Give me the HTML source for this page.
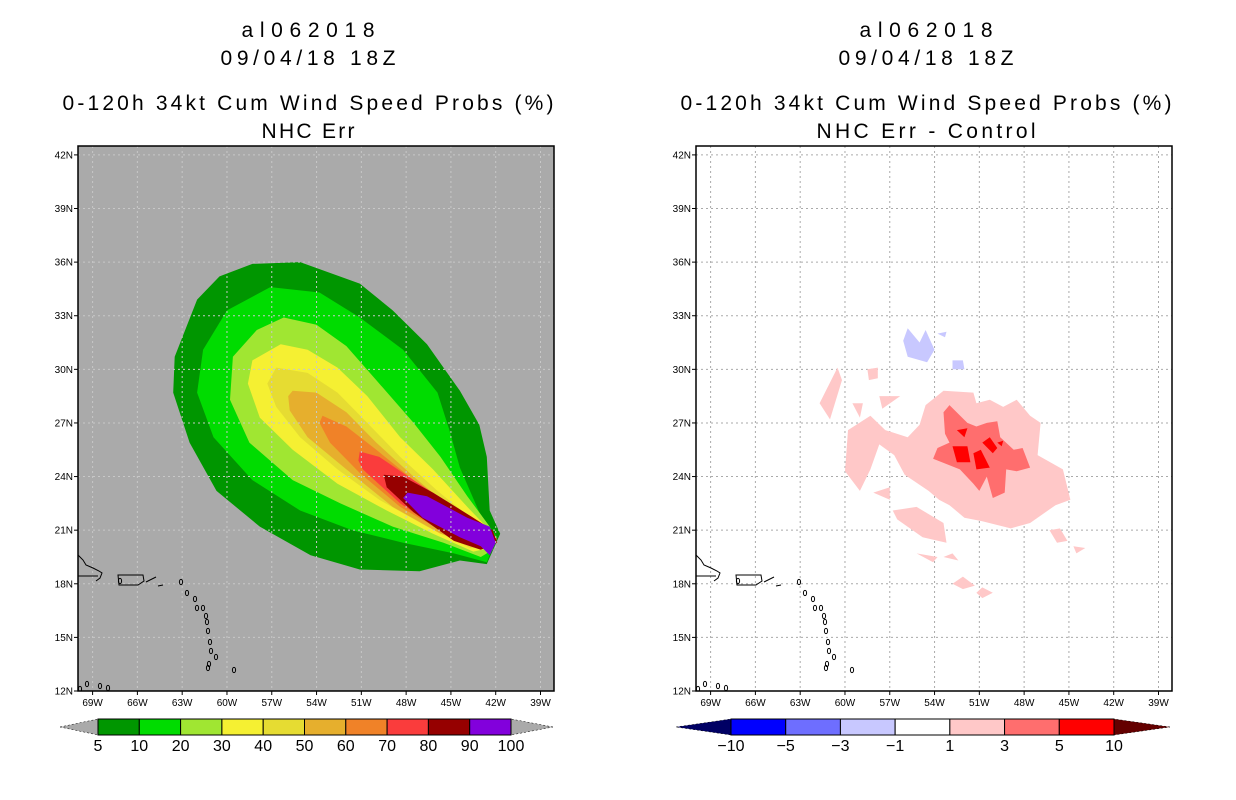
<!DOCTYPE html>
<html><head><meta charset="utf-8"><style>
body{margin:0;background:#fff;width:1236px;height:800px;overflow:hidden;font-family:"Liberation Sans",sans-serif}
svg{display:block}
</style></head><body>
<svg id="c" width="1236" height="800" xmlns="http://www.w3.org/2000/svg"></svg>
<script>
// ---- data ----
const latTicks=[12,15,18,21,24,27,30,33,36,39,42];
const lonTicks=[69,66,63,60,57,54,51,48,45,42,39];
const probLevels=[5,10,20,30,40,50,60,70,80,90,100];
const probColors=["#009600","#00dc00","#a0e632","#f5f032","#e6dc32","#e6af2d","#f08228","#fa3c3c","#960000","#8200dc"];
const diffLevels=[-10,-5,-3,-1,1,3,5,10];
const diffColors=["#0000ff","#6e6eff","#c8c8ff","#ffffff","#ffc8c8","#ff6e6e","#ff0000"];
// contour polygons [lonW, latN]
const c5=[[58.3,35.9],[55.1,36.0],[51.1,34.8],[48.9,33.3],[46.6,31.4],[44.4,28.8],[43.1,26.9],[42.6,25.1],[42.4,22.1],[41.7,20.8],[42.6,19.1],[44.4,19.3],[47.1,18.7],[51.1,18.8],[54.4,19.6],[57.8,21.2],[60.7,23.2],[62.5,25.9],[63.6,28.7],[63.5,30.7],[62.0,33.9],[60.5,35.2]];
const c10=[[57.1,34.6],[53.8,34.3],[51.1,32.9],[48.2,31.1],[45.9,28.7],[45.1,26.6],[44.4,24.5],[43.1,22.0],[41.9,20.6],[42.6,19.2],[44.8,19.7],[48.2,20.3],[51.6,21.0],[55.1,22.1],[58.3,23.8],[60.9,26.2],[62.0,28.7],[61.6,31.1],[60.0,33.3]];
const c20=[[56.2,32.9],[54.0,32.5],[52.0,31.3],[49.8,29.2],[47.5,27.0],[45.7,25.1],[43.9,22.9],[42.4,21.2],[42.2,19.9],[43.0,19.5],[45.5,20.3],[48.9,21.2],[52.4,22.5],[55.6,23.8],[58.5,25.9],[59.8,28.3],[59.6,30.7],[58.0,32.2]];
const c30=[[56.4,31.4],[54.6,31.1],[52.6,30.1],[50.6,28.5],[48.4,26.2],[46.2,24.4],[43.9,22.3],[42.4,21.0],[42.4,20.0],[43.5,19.8],[46.2,20.8],[49.3,22.1],[52.6,23.6],[55.6,25.5],[57.8,27.3],[58.6,29.2],[58.3,30.5]];
const c40=[[56.7,30.1],[54.6,29.8],[52.6,28.7],[50.6,27.0],[48.4,25.1],[45.9,23.2],[43.7,21.7],[42.4,20.8],[42.4,20.1],[43.7,20.0],[46.6,21.2],[49.8,22.7],[52.6,24.4],[55.1,26.2],[56.7,27.9],[57.3,29.2]];
const c50=[[55.6,28.8],[54.0,28.7],[52.0,27.6],[50.0,25.9],[47.5,24.0],[45.1,22.3],[43.0,21.2],[42.2,20.5],[43.0,20.1],[45.7,20.8],[48.9,22.3],[52.0,24.4],[54.6,26.2],[55.8,27.7],[55.9,28.5]];
const c60=[[53.6,27.4],[52.0,26.8],[50.0,25.5],[47.5,23.8],[44.8,22.1],[42.8,21.2],[42.2,20.5],[43.0,20.2],[45.5,20.9],[48.4,22.3],[51.1,24.2],[53.1,25.9],[53.8,27.0]];
const c70=[[51.1,25.4],[49.8,25.1],[47.5,23.8],[44.8,22.3],[42.6,21.2],[41.9,20.5],[42.8,20.1],[45.5,20.9],[48.4,22.5],[50.9,24.4],[51.2,24.9]];
const c80=[[49.5,24.1],[48.2,24.0],[46.2,23.1],[43.5,21.7],[42.2,21.0],[41.9,20.3],[43.0,19.9],[44.8,20.4],[47.5,22.0],[49.3,23.4]];
const c90=[[47.9,23.1],[46.6,22.9],[43.9,21.7],[42.4,21.2],[42.0,20.3],[42.4,19.6],[43.0,20.1],[44.4,20.6],[46.9,21.7],[48.2,22.8]];
const probPolys=[c5,c10,c20,c30,c40,c50,c60,c70,c80,c90];
// difference field
const pinkPolys=[
[[53.4,28.8],[51.4,28.7],[51.2,28.1],[50.3,28.3],[49.4,27.9],[48.5,28.3],[47.6,27.4],[46.9,27.0],[47.1,25.2],[45.4,24.4],[44.9,22.7],[45.9,22.4],[47.6,21.4],[48.9,21.1],[50.8,21.5],[52.0,21.7],[53.0,22.4],[53.7,22.7],[54.4,23.2],[56.0,24.1],[56.7,25.2],[57.7,25.8],[58.3,24.4],[59.0,23.2],[60.0,24.3],[59.8,26.6],[58.3,27.4],[57.3,26.6],[55.8,26.2],[55.0,26.9],[54.6,28.0]],
[[56.8,22.1],[55.2,22.3],[53.4,21.4],[53.2,20.3],[54.8,20.6],[56.5,21.6]],
[[61.7,28.1],[60.5,30.1],[60.2,29.4],[61.0,27.2]],
[[58.5,30.0],[57.8,30.1],[57.8,29.5],[58.4,29.4]],
[[57.7,28.5],[56.3,28.5],[57.5,27.8]],
[[59.5,28.1],[58.8,28.1],[59.0,27.3]],
[[58.1,23.1],[57.0,23.4],[57.0,22.7]],
[[55.2,19.7],[53.8,19.5],[54.1,19.2]],
[[53.4,19.5],[52.8,19.7],[52.4,19.3]],
[[52.8,18.0],[52.1,18.4],[51.3,17.9],[52.1,17.7]],
[[51.2,17.5],[50.8,17.8],[50.1,17.5],[50.8,17.2]],
[[46.3,21.0],[45.6,21.1],[45.1,20.4],[45.8,20.3]],
[[44.7,20.1],[43.9,20.0],[44.5,19.7]]];
const salmonPolys=[[[53.4,27.6],[53.0,28.0],[51.8,27.0],[51.2,26.8],[50.5,27.0],[49.8,27.1],[49.6,26.2],[48.7,25.5],[48.1,25.6],[47.6,24.5],[48.5,24.3],[49.2,24.4],[49.3,23.1],[50.1,22.8],[50.5,24.0],[51.0,23.2],[51.4,23.6],[52.3,24.4],[54.1,25.0],[53.8,25.6],[53.0,25.9],[53.3,26.4]]];
const redPolys=[
[[52.8,25.7],[51.8,25.7],[51.6,24.8],[52.5,24.8]],
[[52.5,26.6],[51.8,26.7],[52.0,26.2]],
[[51.4,25.3],[50.9,25.5],[50.3,24.5],[51.2,24.4]],
[[50.8,25.9],[50.3,26.2],[49.8,25.6],[50.1,25.3]],
[[49.8,25.9],[49.4,26.0],[49.5,25.7]]];
const bluePolys=[
[[55.8,32.3],[55.0,31.5],[54.6,32.2],[54.0,31.1],[54.5,30.4],[55.8,30.7],[56.1,31.6]],
[[52.8,30.5],[52.1,30.5],[52.0,30.0],[52.8,30.0]],
[[53.8,32.0],[53.2,32.1],[53.3,31.8]]];

// ---- layout ----
const NS="http://www.w3.org/2000/svg";
const svg=document.getElementById('c');
function mk(t,a,p){const e=document.createElementNS(NS,t);for(const k in a)e.setAttribute(k,a[k]);(p||svg).appendChild(e);return e;}
const PW=476,PH=545,PT=146;
function X(ox,lonW){return ox+14.6+(69-lonW)*14.93;}
function Y(lat){return 691-(lat-12)*17.87;}
function polyStr(ox,pts){return pts.map(p=>X(ox,p[0]).toFixed(1)+','+Y(p[1]).toFixed(1)).join(' ');}

const coast=[
 "M0,9 L5,14 L8,19 L15,22 L21,25 L24,27 L22,32 L18,35 M0,30 L20,30",
 "M40,29 L65,29 L66,35 L60,39 L41,39 Z",
 "M68,36 L74,33 L78,31", "M80,40 L85,39"
];
const islands=[[42,35],[103,36],[109,47],[117,53],[119,62],[125,62],[128,70],[129,76],[130,85],[132,96],[133,105],[138,111],[131,118],[130,122],[156,124],[9,138],[22,140],[30,142],[2,143]];

function panel(ox,title2,w2,bg,key){
  const g=mk('g',{});
  
  
  const cx=ox+PW/2-8;
  const t=[["al062018",30,133],["09/04/18 18Z",58,175],["0-120h 34kt Cum Wind Speed Probs (%)",103,491],[title2,131,w2]];
  t.forEach((s,i)=>{const e=mk('text',{x:cx,y:s[1]+7,'font-size':'21','text-anchor':'middle',fill:'#000',textLength:s[2],lengthAdjust:'spacing'},g);e.textContent=s[0];
    
    });
  const bgr=mk('rect',{x:ox,y:PT,width:PW,height:PH,fill:bg},g);
  
  
  const clip=mk('clipPath',{id:'cl'+key},g);mk('rect',{x:ox,y:PT,width:PW,height:PH},clip);
  const m=mk('g',{'clip-path':'url(#cl'+key+')'},g);
  return {g,m,ox};
}
function grid(P,gridCol){
  latTicks.forEach(l=>{if(l>12&&l<=42){mk('line',{x1:P.ox,x2:P.ox+PW,y1:Y(l),y2:Y(l),stroke:gridCol,'stroke-dasharray':'2,3','stroke-width':1},P.m);}});
  lonTicks.forEach(l=>{mk('line',{x1:X(P.ox,l),x2:X(P.ox,l),y1:PT,y2:PT+PH,stroke:gridCol,'stroke-dasharray':'2,3','stroke-width':1},P.m);});
}
function coastDraw(P){
  const cg=mk('g',{transform:'translate('+P.ox+',546)',fill:'none',stroke:'#000','stroke-width':1},P.m);
  
  
  coast.forEach(d=>mk('path',{d},cg));
  islands.forEach(p=>mk('ellipse',{cx:p[0],cy:p[1],rx:1.6,ry:2.6},cg));
}
function axes(P,key){
  const g=P.g;
  const fr=mk('rect',{x:P.ox,y:PT,width:PW,height:PH,fill:'none',stroke:'#000','stroke-width':1.5},g);
  
  
  latTicks.forEach(l=>{const y=Y(l);mk('line',{x1:P.ox-4,x2:P.ox,y1:y,y2:y,stroke:'#000'},g);
    const t=mk('text',{x:P.ox-5,y:y+3.5,'font-size':'10','text-anchor':'end'},g);t.textContent=l+'N';
    
    });
  lonTicks.forEach(l=>{const x=X(P.ox,l);mk('line',{x1:x,x2:x,y1:PT+PH,y2:PT+PH+4,stroke:'#000'},g);
    const t=mk('text',{x:x,y:PT+PH+15,'font-size':'10','text-anchor':'middle'},g);t.textContent=l+'W';
    
    });
}
// left
const L=panel(78,"NHC Err",93,"#aaaaaa",'left');
probPolys.forEach((pl,i)=>{const e=mk('polygon',{points:polyStr(78,pl),fill:probColors[i]},L.m);
  
  });
grid(L,"#c8c8c8");coastDraw(L);axes(L,'left');
// right
const R=panel(696,"NHC Err - Control",219,"#ffffff",'right');
grid(R,"#aaaaaa");
[[pinkPolys,diffColors[4],'diff-1-3'],[salmonPolys,diffColors[5],'diff-3-5'],[redPolys,diffColors[6],'diff-5-10'],[bluePolys,diffColors[2],'diff-neg-1-3']].forEach(s=>{
  s[0].forEach(pl=>{const e=mk('polygon',{points:polyStr(696,pl),fill:s[1]},R.m);
    
    });});
coastDraw(R);axes(R,'right');
// colorbars
function colorbar(x0,x1,tl,tr,levels,colors,lc,rc,key){
  const g=mk('g',{});
  
  
  const y0=719,y1=735,ym=727,w=(x1-x0)/colors.length;
  mk('polygon',{points:`${tl},${ym} ${x0},${y0} ${x0},${y1}`,fill:lc,stroke:'#000','stroke-width':0.5,'stroke-dasharray':'2,2'},g);
  mk('polygon',{points:`${tr},${ym} ${x1},${y0} ${x1},${y1}`,fill:rc,stroke:'#000','stroke-width':0.5,'stroke-dasharray':'2,2'},g);
  colors.forEach((c,i)=>{const r=mk('rect',{x:x0+i*w,y:y0,width:w,height:y1-y0,fill:c,stroke:'#000','stroke-width':1},g);
    
    });
  levels.forEach((v,i)=>{const t=mk('text',{x:x0+i*w,y:751,'font-size':'16','text-anchor':'middle'},g);t.textContent=String(v).replace('-','\u2212');
    
    });
}
colorbar(98,511,60,553,probLevels,probColors,'#aaaaaa','#aaaaaa','left');
colorbar(731,1114,676,1170,diffLevels,diffColors,'#000064','#640000','right');
</script>
</body></html>
